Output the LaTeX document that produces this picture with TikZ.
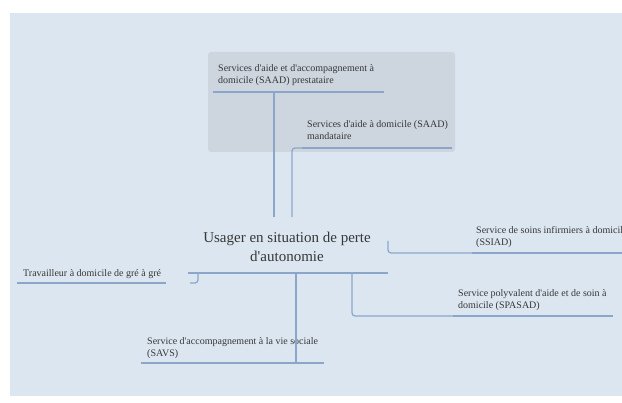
\documentclass[tikz,border=0pt]{standalone}
\usepackage{fontspec}
\setmainfont{Liberation Serif}[Ligatures=TeXOff]

\definecolor{mapbg}{RGB}{220,230,241}
\definecolor{groupgray}{RGB}{205,213,223}
\definecolor{linkblue}{RGB}{140,166,201}
\definecolor{textgray}{RGB}{55,55,55}

\tikzset{
  topic/.style={anchor=north west, inner sep=0pt, align=left, text=textgray,
    font=\fontsize{10}{12.5}\selectfont},
  central/.style={inner sep=0pt, align=center, text=textgray,
    font=\fontsize{15}{19}\selectfont},
  branch/.style={draw=linkblue, line width=1.2pt, rounded corners=3pt},
  underline/.style={draw=linkblue, line width=1.5pt}
}

\begin{document}
\begin{tikzpicture}[x=1pt,y=-1pt]
\clip (0,0) rectangle (622,403);
\fill[white] (0,0) rectangle (622,403);
\fill[mapbg] (10,13) rectangle (622,396);
% groupe SAAD
\fill[groupgray, rounded corners=3pt] (208,52) rectangle (455,152);

\node[central] (root) at (287,247) {Usager en situation de perte\\d'autonomie};
\node[topic] (prest) at (218,64) {Services d'aide et d'accompagnement à\\domicile (SAAD) prestataire};
\node[topic] (mandat) at (307,120) {Services d'aide à domicile (SAAD)\\mandataire};
\node[topic] (ssiad) at (476,226) {Service de soins infirmiers à domicil\\(SSIAD)};
\node[topic] (gre) at (23,269) {Travailleur à domicile de gré à gré};
\node[topic] (spasad) at (458,289) {Service polyvalent d'aide et de soin à\\domicile (SPASAD)};
\node[topic] (savs) at (147,337) {Service d'accompagnement à la vie sociale\\(SAVS)};

% soulignements
\coordinate (rootL) at (188,273);   \coordinate (rootR) at (388,273);
\coordinate (prestL) at (213,92);   \coordinate (prestR) at (384,92);
\coordinate (mandatL) at (302,148); \coordinate (mandatR) at (452,148);
\coordinate (ssiadL) at (472,253);  \coordinate (ssiadR) at (630,253);
\coordinate (greL) at (17,283);     \coordinate (greR) at (166,283);
\coordinate (spasadL) at (453,316); \coordinate (spasadR) at (613,316);
\coordinate (savsL) at (141,363);   \coordinate (savsR) at (324,363);
\foreach \t in {root,prest,mandat,ssiad,gre,spasad,savs}
  \draw[underline] (\t L) -- (\t R);

% liens
\coordinate (upA) at (274,217);
\coordinate (upB) at (292,217);
\coordinate (greJ) at (198,273);
\coordinate (greE) at (190,283);
\coordinate (ssiadJ) at (388,241);
\coordinate (spasadJ) at (352,273);
\coordinate (savsJ) at (296,273);
\draw[branch] (274,92) -- (upA);
\draw[branch] (mandatL) -| (upB);
\draw[branch] (greJ) |- (greE);
\draw[branch] (ssiadJ) |- (ssiadL);
\draw[branch] (spasadJ) |- (spasadL);
\draw[branch] (savsJ) -- (296,363);
\end{tikzpicture}
\end{document}
